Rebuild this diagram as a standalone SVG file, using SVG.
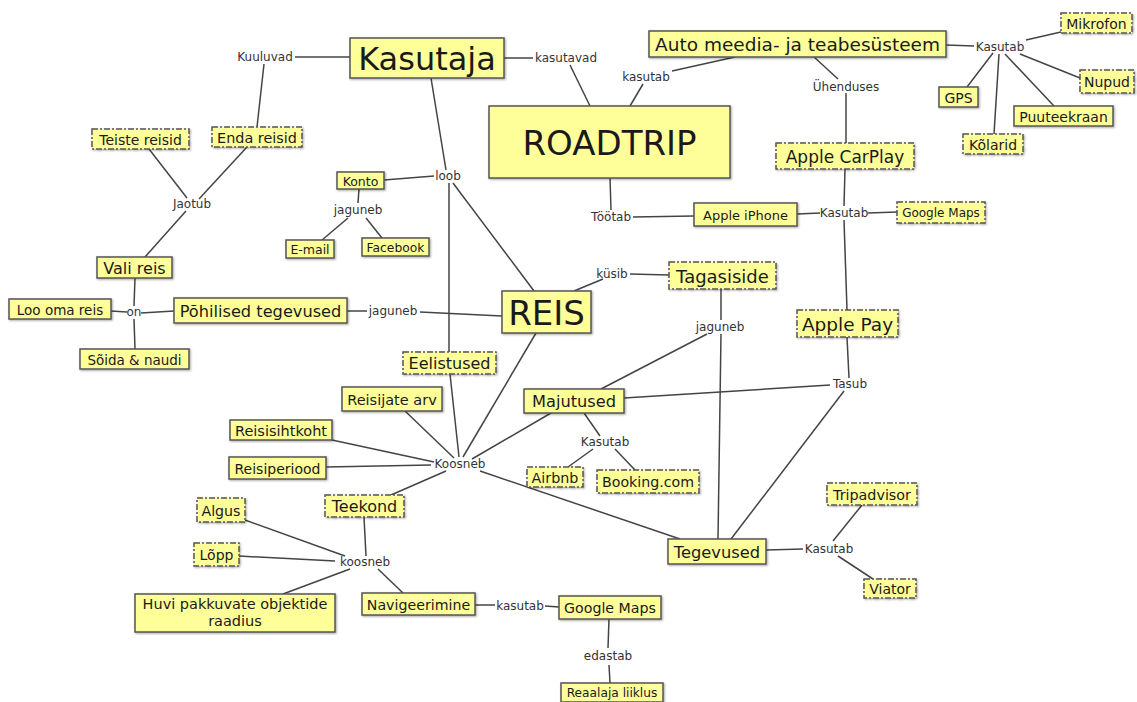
<svg xmlns="http://www.w3.org/2000/svg" width="1137" height="702" viewBox="0 0 1137 702">
<defs>
<filter id="sh" x="-5%" y="-5%" width="115%" height="130%"><feDropShadow dx="1" dy="1" stdDeviation="0.8" flood-color="#000" flood-opacity="0.35"/></filter>
</defs>
<style>
.n rect{fill:#ffff99;stroke:#555;stroke-width:1.5;filter:url(#sh)}
.d rect{stroke-dasharray:6 2 2 2}
text{font-family:"DejaVu Sans",Verdana,sans-serif;fill:#1a1a1a;text-anchor:middle;dominant-baseline:central}
.l text{font-size:12px;fill:#333}
#connectors line{stroke:#444;stroke-width:1.5}
</style>
<rect width="1137" height="702" fill="#fff"/>
<g id="connectors">
<line x1="350" y1="57" x2="295" y2="57"/>
<line x1="264" y1="64" x2="257" y2="127"/>
<line x1="247" y1="147" x2="199" y2="199"/>
<line x1="149" y1="149" x2="187" y2="198"/>
<line x1="186" y1="211" x2="145" y2="257"/>
<line x1="504" y1="58" x2="533" y2="58"/>
<line x1="570" y1="65" x2="590" y2="106"/>
<line x1="630" y1="106" x2="643" y2="84"/>
<line x1="672" y1="71" x2="735" y2="57"/>
<line x1="946" y1="45" x2="974" y2="46"/>
<line x1="1026" y1="40" x2="1061" y2="32"/>
<line x1="1020" y1="54" x2="1080" y2="78"/>
<line x1="993" y1="53" x2="967" y2="87"/>
<line x1="999" y1="54" x2="994" y2="134"/>
<line x1="1005" y1="54" x2="1054" y2="106"/>
<line x1="814" y1="57" x2="838" y2="79"/>
<line x1="846" y1="93" x2="846" y2="143"/>
<line x1="845" y1="169" x2="844" y2="206"/>
<line x1="844" y1="220" x2="847" y2="310"/>
<line x1="797" y1="214" x2="820" y2="213"/>
<line x1="868" y1="213" x2="897" y2="212"/>
<line x1="610" y1="178" x2="611" y2="210"/>
<line x1="633" y1="217" x2="694" y2="216"/>
<line x1="431" y1="78" x2="446" y2="170"/>
<line x1="434" y1="176" x2="384" y2="180"/>
<line x1="359" y1="189" x2="358" y2="203"/>
<line x1="348" y1="218" x2="322" y2="240"/>
<line x1="366" y1="218" x2="382" y2="238"/>
<line x1="449" y1="183" x2="449" y2="352"/>
<line x1="453" y1="183" x2="534" y2="291"/>
<line x1="450" y1="374" x2="459" y2="457"/>
<line x1="135" y1="278" x2="134" y2="306"/>
<line x1="111" y1="311" x2="127" y2="312"/>
<line x1="141" y1="313" x2="174" y2="311"/>
<line x1="134" y1="319" x2="135" y2="349"/>
<line x1="347" y1="311" x2="367" y2="311"/>
<line x1="420" y1="312" x2="502" y2="316"/>
<line x1="574" y1="291" x2="603" y2="279"/>
<line x1="630" y1="274" x2="669" y2="275"/>
<line x1="721" y1="289" x2="721" y2="320"/>
<line x1="721" y1="334" x2="718" y2="539"/>
<line x1="707" y1="334" x2="601" y2="389"/>
<line x1="624" y1="398" x2="830" y2="385"/>
<line x1="847" y1="337" x2="849" y2="378"/>
<line x1="844" y1="391" x2="731" y2="539"/>
<line x1="536" y1="333" x2="463" y2="457"/>
<line x1="551" y1="413" x2="472" y2="459"/>
<line x1="584" y1="413" x2="600" y2="436"/>
<line x1="593" y1="449" x2="568" y2="467"/>
<line x1="615" y1="449" x2="635" y2="470"/>
<line x1="405" y1="411" x2="454" y2="458"/>
<line x1="332" y1="440" x2="434" y2="462"/>
<line x1="326" y1="467" x2="431" y2="465"/>
<line x1="446" y1="471" x2="391" y2="495"/>
<line x1="480" y1="471" x2="680" y2="539"/>
<line x1="364" y1="517" x2="366" y2="556"/>
<line x1="245" y1="520" x2="345" y2="556"/>
<line x1="239" y1="556" x2="335" y2="561"/>
<line x1="350" y1="569" x2="283" y2="594"/>
<line x1="378" y1="569" x2="403" y2="593"/>
<line x1="475" y1="605" x2="495" y2="605"/>
<line x1="545" y1="606" x2="559" y2="607"/>
<line x1="609" y1="619" x2="608" y2="648"/>
<line x1="609" y1="665" x2="610" y2="683"/>
<line x1="766" y1="550" x2="803" y2="549"/>
<line x1="833" y1="541" x2="862" y2="505"/>
<line x1="838" y1="556" x2="873" y2="579"/>
</g>
<g class="l" id="labels">
<text x="265" y="57">Kuuluvad</text>
<text x="566" y="58">kasutavad</text>
<text x="646" y="77">kasutab</text>
<text x="1000" y="47">Kasutab</text>
<text x="846" y="87">Ühenduses</text>
<text x="844" y="213">Kasutab</text>
<text x="611" y="217">Töötab</text>
<text x="448" y="176">loob</text>
<text x="358" y="210">jaguneb</text>
<text x="192" y="204">Jaotub</text>
<text x="134" y="312">on</text>
<text x="393" y="311">jaguneb</text>
<text x="612" y="274">küsib</text>
<text x="720" y="327">jaguneb</text>
<text x="850" y="384">Tasub</text>
<text x="605" y="442">Kasutab</text>
<text x="460" y="464">Koosneb</text>
<text x="365" y="562">koosneb</text>
<text x="520" y="606">kasutab</text>
<text x="608" y="656">edastab</text>
<text x="829" y="549">Kasutab</text>
</g>
<g class="n" id="kasutaja"><rect x="350" y="38" width="154" height="40"/><text x="427" y="59" font-size="32">Kasutaja</text></g>
<g class="n" id="roadtrip"><rect x="489" y="106" width="241" height="72"/><text x="609.5" y="143" font-size="34">ROADTRIP</text></g>
<g class="n" id="auto"><rect x="649" y="31" width="297" height="26"/><text x="797.5" y="44.5" font-size="18.5">Auto meedia- ja teabesüsteem</text></g>
<g class="n d" id="mikrofon"><rect x="1061" y="13" width="71" height="20"/><text x="1096.5" y="23.5" font-size="14">Mikrofon</text></g>
<g class="n d" id="nupud"><rect x="1080" y="70" width="54" height="23"/><text x="1107" y="82" font-size="14">Nupud</text></g>
<g class="n" id="gps"><rect x="939" y="87" width="39" height="20"/><text x="958.5" y="97.5" font-size="14">GPS</text></g>
<g class="n" id="puuteekraan"><rect x="1014" y="106" width="99" height="20"/><text x="1063.5" y="116.5" font-size="14">Puuteekraan</text></g>
<g class="n d" id="kolarid"><rect x="963" y="134" width="60" height="20"/><text x="993" y="144.5" font-size="14">Kõlarid</text></g>
<g class="n d" id="carplay"><rect x="776" y="143" width="138" height="26"/><text x="845" y="156.5" font-size="17">Apple CarPlay</text></g>
<g class="n" id="iphone"><rect x="694" y="203" width="103" height="23"/><text x="745.5" y="215" font-size="13">Apple iPhone</text></g>
<g class="n d" id="gmaps1"><rect x="897" y="202" width="88" height="21"/><text x="941" y="213" font-size="12">Google Maps</text></g>
<g class="n d" id="enda"><rect x="212" y="127" width="90" height="20"/><text x="257" y="137.5" font-size="14.4">Enda reisid</text></g>
<g class="n d" id="teiste"><rect x="92" y="129" width="97" height="20"/><text x="140.5" y="139.5" font-size="14">Teiste reisid</text></g>
<g class="n" id="konto"><rect x="337" y="172" width="47" height="17"/><text x="360.5" y="181" font-size="12.5">Konto</text></g>
<g class="n" id="email"><rect x="286" y="240" width="48" height="18"/><text x="310" y="249.5" font-size="12.5">E-mail</text></g>
<g class="n" id="facebook"><rect x="362" y="238" width="67" height="18"/><text x="395.5" y="247.5" font-size="12.3">Facebook</text></g>
<g class="n" id="vali"><rect x="97" y="257" width="75" height="21"/><text x="134.5" y="268" font-size="16">Vali reis</text></g>
<g class="n" id="loo"><rect x="9" y="299" width="102" height="20"/><text x="60" y="309.5" font-size="13.5">Loo oma reis</text></g>
<g class="n" id="pohilised"><rect x="174" y="298" width="173" height="25"/><text x="260.5" y="311" font-size="16.2">Põhilised tegevused</text></g>
<g class="n" id="soida"><rect x="80" y="349" width="109" height="20"/><text x="134.5" y="359.5" font-size="13.5">Sõida &amp; naudi</text></g>
<g class="n" id="reis"><rect x="502" y="291" width="89" height="42"/><text x="546.5" y="313" font-size="34">REIS</text></g>
<g class="n d" id="tagasiside"><rect x="669" y="262" width="107" height="27"/><text x="722.5" y="276" font-size="18">Tagasiside</text></g>
<g class="n d" id="applepay"><rect x="797" y="310" width="101" height="27"/><text x="847.5" y="324" font-size="18.5">Apple Pay</text></g>
<g class="n d" id="eelistused"><rect x="403" y="352" width="93" height="22"/><text x="449.5" y="363.5" font-size="16">Eelistused</text></g>
<g class="n" id="reisijate"><rect x="342" y="387" width="100" height="24"/><text x="392" y="399.5" font-size="14.5">Reisijate arv</text></g>
<g class="n" id="majutused"><rect x="524" y="389" width="100" height="24"/><text x="574" y="401.5" font-size="16.2">Majutused</text></g>
<g class="n" id="reisisihtkoht"><rect x="230" y="420" width="102" height="20"/><text x="281" y="430.5" font-size="14.5">Reisisihtkoht</text></g>
<g class="n" id="reisiperiood"><rect x="229" y="457" width="97" height="22"/><text x="277.5" y="468.5" font-size="14">Reisiperiood</text></g>
<g class="n d" id="airbnb"><rect x="527" y="467" width="56" height="20"/><text x="555" y="477.5" font-size="14.3">Airbnb</text></g>
<g class="n d" id="booking"><rect x="597" y="470" width="102" height="23"/><text x="648" y="482" font-size="14.2">Booking.com</text></g>
<g class="n d" id="teekond"><rect x="325" y="495" width="79" height="22"/><text x="364.5" y="506.5" font-size="16">Teekond</text></g>
<g class="n d" id="algus"><rect x="197" y="498" width="48" height="24"/><text x="221" y="510.5" font-size="14.2">Algus</text></g>
<g class="n d" id="lopp"><rect x="194" y="543" width="45" height="23"/><text x="216.5" y="555" font-size="14">Lõpp</text></g>
<g class="n" id="huvi"><rect x="135" y="594" width="200" height="38"/><text x="235" y="604" font-size="14.5">Huvi pakkuvate objektide</text><text x="235" y="621" font-size="14.5">raadius</text></g>
<g class="n" id="navigeerimine"><rect x="362" y="593" width="113" height="22"/><text x="418.5" y="604.5" font-size="14.2">Navigeerimine</text></g>
<g class="n" id="gmaps2"><rect x="559" y="596" width="102" height="23"/><text x="610" y="608" font-size="14.2">Google Maps</text></g>
<g class="n" id="reaalaja"><rect x="561" y="683" width="102" height="19"/><text x="612" y="693" font-size="12.2">Reaalaja liiklus</text></g>
<g class="n" id="tegevused"><rect x="668" y="539" width="98" height="25"/><text x="717" y="552" font-size="16.3">Tegevused</text></g>
<g class="n d" id="tripadvisor"><rect x="827" y="483" width="90" height="22"/><text x="872" y="494.5" font-size="14.3">Tripadvisor</text></g>
<g class="n d" id="viator"><rect x="864" y="579" width="52" height="19"/><text x="890" y="589" font-size="14">Viator</text></g>
</svg>
